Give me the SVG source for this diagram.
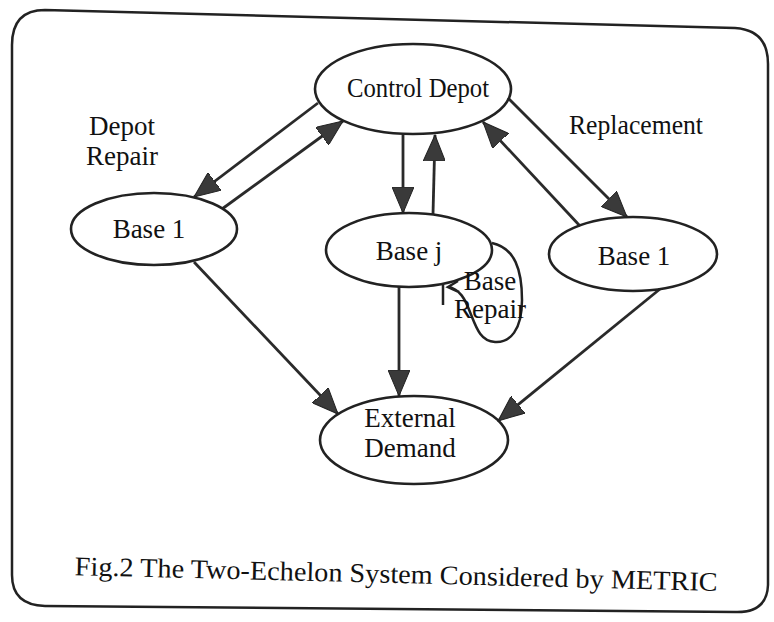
<svg xmlns="http://www.w3.org/2000/svg" width="774" height="622" viewBox="0 0 774 622">
<defs>
<marker id="ah" markerUnits="userSpaceOnUse" markerWidth="27" markerHeight="22" refX="26" refY="11" orient="auto">
<path d="M0,0 L26,11 L0,22 Z" fill="#3a3a3a" stroke="#222" stroke-width="1"/>
</marker>
<style>
.n{fill:none;stroke:#222;stroke-width:2.6}
.c{fill:none;stroke:#2a2a2a;stroke-width:2.8;marker-end:url(#ah)}
.t{font-family:"Liberation Serif","Times New Roman",serif;font-size:27px;fill:#111;text-anchor:middle}
</style>
</defs>
<rect width="774" height="622" fill="#fff"/>
<path id="frame" d="M45,10 L735,28 Q768,30 768,64 L768,585 Q767,613 735,612 L45,606 Q12,605 12,575 L12,45 Q12,10 45,10 Z" fill="none" stroke="#222" stroke-width="2.5"/>
<g id="connectors">
<path class="c" d="M318,103 L194,197"/>
<path class="c" d="M222,209 L343,121"/>
<path class="c" d="M403,135 L403,213"/>
<path class="c" d="M433,214 L435,135"/>
<path class="c" d="M508,98 L627,217"/>
<path class="c" d="M580,226 L483,122"/>
<path class="c" d="M194,262 L338,414"/>
<path class="c" d="M399,287 L399,396"/>
<path class="c" d="M660,289 L498,421"/>
<path id="base-repair-loop" d="M492,243 C515,248 522,270 522,300 C522,330 510,343 495,342 C480,341 476,327 470,312 C465,299 460,289 448,287 M458,281 L448,287 L459,292 M443,283 L443,305" fill="none" stroke="#222" stroke-width="2.5"/>
</g>
<g id="control-depot">
<ellipse class="n" cx="413" cy="89" rx="98" ry="45"/>
<text class="t" x="418" y="97" font-size="26" textLength="142" lengthAdjust="spacingAndGlyphs">Control Depot</text>
</g>
<g id="base1-left">
<ellipse class="n" cx="154" cy="229" rx="83" ry="36"/>
<text class="t" x="149" y="238">Base 1</text>
</g>
<g id="base-j">
<ellipse class="n" cx="409" cy="250" rx="83" ry="37"/>
<text class="t" x="409" y="260">Base j</text>
</g>
<g id="base1-right">
<ellipse class="n" cx="633" cy="254" rx="84" ry="37"/>
<text class="t" x="634" y="265">Base 1</text>
</g>
<g id="external-demand">
<ellipse class="n" cx="414" cy="440" rx="94" ry="44"/>
<text class="t" x="410" y="427">External</text>
<text class="t" x="410" y="457">Demand</text>
</g>
<g id="labels">
<text class="t" x="122" y="135" font-size="25">Depot</text>
<text class="t" x="122" y="165" font-size="25">Repair</text>
<text class="t" x="490" y="290" font-size="21">Base</text>
<text class="t" x="490" y="318" font-size="21">Repair</text>
<text class="t" x="636" y="134" font-size="26" textLength="134" lengthAdjust="spacingAndGlyphs">Replacement</text>
<text class="t" x="396" y="583" font-size="27" textLength="643" lengthAdjust="spacingAndGlyphs" transform="rotate(1.4 396 583)">Fig.2 The Two-Echelon System Considered by METRIC</text>
</g>
</svg>
